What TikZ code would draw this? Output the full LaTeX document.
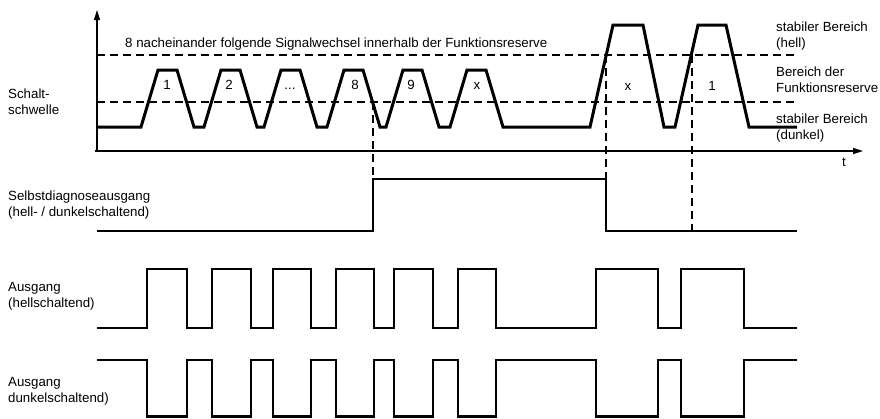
\documentclass[tikz,border=0pt]{standalone}
\usepackage{fontspec}
\setmainfont{Liberation Sans}
\usepackage{tikz}
\usetikzlibrary{arrows.meta,positioning}

\begin{document}
\begin{tikzpicture}[
    x=1pt, y=-1pt,
    every node/.style={font=\fontsize{13.3}{16}\selectfont, inner sep=0pt},
    lefttext/.style={anchor=west, align=left},
    analog/.style={line width=3pt, line join=miter},
    outsig/.style={line width=2.6pt},
    threshold/.style={line width=1.2pt, dash pattern=on 8pt off 5pt},
    axisline/.style={line width=1.5pt, -{Triangle[length=10pt,width=6pt]}}
]
\useasboundingbox (0,0) rectangle (880,418);

\draw[axisline] (97,152) -- (97,10);
\draw[axisline] (95,151) -- (863,151);

\draw[threshold] (97,55) -- (797,55);
\draw[threshold] (97,102) -- (797,102);

\draw[analog] (97,127)
    foreach \s in {141,204,264,327,386,450} { -- (\s,127) -- ++(17,-57) -- ++(19,0) -- ++(17,57) }
    -- (590,127) -- ++(23,-102) -- ++(30,0) -- ++(21,102)
    -- (675,127) -- ++(23,-102) -- ++(28,0) -- ++(23,102) -- (797,127);

\draw[threshold] (373,102) -- (373,179);
\draw[threshold] (606,55) -- (606,179);
\draw[threshold] (692,55) -- (692,231);

\draw[outsig] (97,231) -- (373,231) -- (373,179) -- (606,179) -- (606,231) -- (797,231);

\draw[outsig] (97,328)
    foreach \a/\b in {147/187,212/251,273/311,336/374,394/433,458/496,596/658,681/744}
    { -- (\a,328) -- (\a,269) -- (\b,269) -- (\b,328) } -- (797,328);

\draw[outsig] (97,360)
    foreach \a/\b in {147/187,212/251,273/311,336/374,394/433,458/496,596/658,681/744}
    { -- (\a,360) -- (\a,416.5) -- (\b,416.5) -- (\b,360) } -- (797,360);

\foreach \x/\y/\txt [count=\i] in {167/89/1, 229/89/2, 290/89/{...}, 355/89/8, 411/89/9, 477/89/x, 628/90/x, 712/90/1}
    \node[anchor=base] (p\i) at (\x,\y) {\txt};

\node[anchor=west] (serie) at (125,44) {8 nacheinander folgende Signalwechsel innerhalb der Funktionsreserve};
\node[lefttext] (schwelle) at (8,102) {Schalt-\\schwelle};
\node[lefttext] (hell) at (776,36) {stabiler Bereich\\(hell)};
\node[lefttext] (reserve) at (776,80) {Bereich der\\Funktionsreserve};
\node[lefttext] (dunkel) at (776,128) {stabiler Bereich\\(dunkel)};
\node (t) at (844,162) {t};
\node[lefttext] (diag) at (8,205) {Selbstdiagnoseausgang\\(hell- / dunkelschaltend)};
\node[lefttext] (aushell) at (8,296) {Ausgang\\(hellschaltend)};
\node[lefttext] (ausdunkel) at (8,391) {Ausgang\\dunkelschaltend)};
\end{tikzpicture}
\end{document}
